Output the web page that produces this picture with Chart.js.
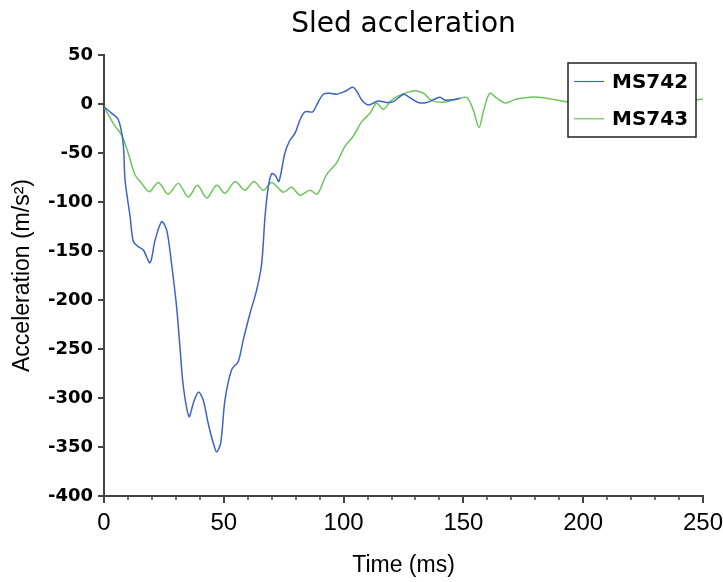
<!DOCTYPE html>
<html>
<head>
<meta charset="utf-8">
<script src="https://cdn.jsdelivr.net/npm/chart.js@4.4.0/dist/chart.umd.min.js"></script>
<style>
  html, body { margin: 0; padding: 0; background: #fff; }
</style>
</head>
<body>
<canvas id="chart" width="723" height="582"></canvas>
<script>
// values
const seriesNames = ['MS742', 'MS743'];

const timeMS742 = [0, 3, 6, 8, 8.8, 10.9, 12.2, 14, 16.4, 19.2, 21.3, 24.1, 26.2, 28.2, 30.3, 31.7, 33.1,
  35.5, 37.3, 39.4, 41.4, 43.5, 45.6, 47, 48.7, 50.5, 53.3, 56, 58.1, 60.9, 63.7, 65.8, 67.2, 68.6,
  70, 71.5, 73, 75.5, 77.6, 79.7, 82, 83.9, 87.1, 89, 91.5, 94.3, 97.1, 100.6, 103.8, 105.5, 107.6,
  110.3, 114.5, 118, 120.8, 125, 127, 131.2, 134.7, 140.2, 142.3, 147.2, 148.6];
const accMS742 = [-3, -9, -16, -40, -78, -115, -140, -145, -149, -162, -139, -120, -129, -163, -207, -248, -288,
  -319, -305, -294, -302, -326, -346, -355, -346, -302, -271, -263, -241, -214, -190, -163, -115, -84,
  -71, -73, -79, -50, -37, -30, -15, -8, -8, 0, 10, 11, 10, 13, 17, 13, 4,
  -1, 3, 1.5, 2.5, 10, 7.5, 1.5, 1.5, 7, 4, 5, 6];

const timeMS743 = [0, 3.9, 7.4, 10.1, 12.9, 15.7, 18.9, 22.7, 26.8, 31, 35.2, 39, 42.9, 47, 50.5, 54.7,
  58.8, 62.6, 66.5, 70, 74.8, 78.3, 81.8, 86, 89, 92.9, 97.1, 100.6, 104, 107.6, 111, 113.8, 116.6,
  119.4, 122.2, 126.3, 129.8, 133.3, 136.8, 141.6, 145.8, 151.4, 154.1, 156.5, 158.5, 161, 163.9,
  167.4, 172.2, 177.8, 183.3, 188.9, 193.1, 200, 205, 215, 225, 235, 245, 250];
const accMS743 = [-3, -20, -32, -50, -72, -81, -89.5, -80, -92, -81, -95, -83, -96, -83, -91, -79,
  -88, -79, -88, -80, -90, -85, -93, -88, -92, -72, -60, -43, -33, -18, -9.5, 0.7, -5.4,
  2.4, 7.5, 11.6, 13.6, 11, 3.4, 1.7, 4, 6.5, -6, -24, -6, 11, 6,
  1, 5, 7, 6.5, 4, 2.4, 3, 5, 4, 5, 3, 4, 5];

const xTickValues = [0, 50, 100, 150, 200, 250];
const yTickValues = [-400, -350, -300, -250, -200, -150, -100, -50, 0, 50];
const xMinorStep = 10;

const toPoints = (xs, ys) => xs.map((x, i) => ({ x: x, y: ys[i] }));

const axisColor = '#444';

// short ticks every 10 ms along the time axis
const minorTicks = {
  id: 'minorTicks',
  afterDraw(chart) {
    const sx = chart.scales.x;
    const ctx = chart.ctx;
    ctx.save();
    ctx.strokeStyle = axisColor;
    ctx.lineWidth = 1.5;
    for (let v = sx.min; v <= sx.max; v += xMinorStep) {
      if (xTickValues.includes(v)) continue;
      const px = Math.round(sx.getPixelForValue(v));
      ctx.beginPath();
      ctx.moveTo(px, sx.top);
      ctx.lineTo(px, sx.top + 4);
      ctx.stroke();
    }
    ctx.restore();
  }
};

// boxed legend in the upper right of the plot
const boxLegend = {
  id: 'boxLegend',
  afterDatasetsDraw(chart) {
    const { ctx, chartArea } = chart;
    const w = 128, h = 74;
    const x0 = chartArea.right - 7 - w;
    const y0 = chartArea.top + 8;
    ctx.save();
    ctx.fillStyle = '#fff';
    ctx.fillRect(x0, y0, w, h);
    ctx.strokeStyle = '#222';
    ctx.lineWidth = 1.5;
    ctx.strokeRect(x0, y0, w, h);
    chart.data.datasets.forEach((ds, i) => {
      const y = y0 + 18.5 + i * 37.3;
      ctx.strokeStyle = ds.borderColor;
      ctx.lineWidth = 1.2;
      ctx.beginPath();
      ctx.moveTo(x0 + 6, y);
      ctx.lineTo(x0 + 36, y);
      ctx.stroke();
      ctx.fillStyle = '#000';
      ctx.font = 'bold 20px "DejaVu Sans"';
      ctx.textBaseline = 'middle';
      ctx.fillText(ds.label, x0 + 44, y + 1);
    });
    ctx.restore();
  }
};

new Chart(document.getElementById('chart'), {
  type: 'line',
  data: {
    datasets: [
      {
        label: seriesNames[0],
        data: toPoints(timeMS742, accMS742),
        borderColor: '#3d63c9',
        borderWidth: 1.5,
        pointRadius: 0,
        tension: 0.3,
        fill: false
      },
      {
        label: seriesNames[1],
        data: toPoints(timeMS743, accMS743),
        borderColor: '#6cc55a',
        borderWidth: 1.5,
        pointRadius: 0,
        tension: 0.3,
        fill: false
      }
    ]
  },
  options: {
    responsive: false,
    animation: false,
    layout: { padding: { left: 0, right: 20, top: 0, bottom: 0 } },
    plugins: {
      legend: { display: false },
      tooltip: { enabled: false },
      title: {
        display: true,
        text: 'Sled accleration',
        color: '#000',
        fullSize: false,
        font: { family: 'DejaVu Sans', size: 28, weight: 'normal' },
        padding: { top: 8, bottom: 13.4 }
      }
    },
    scales: {
      x: {
        type: 'linear',
        min: 0,
        max: 250,
        afterFit: (scale) => { scale.height = 86; scale.paddingRight = 0; },
        afterBuildTicks: (scale) => { scale.ticks = xTickValues.map(v => ({ value: v })); },
        ticks: {
          color: '#000',
          padding: 6,
          maxRotation: 0,
          font: { family: 'Liberation Sans', size: 24 }
        },
        grid: { drawOnChartArea: false, color: axisColor, lineWidth: 2, tickLength: 7 },
        border: { display: true, color: axisColor, width: 2 },
        title: {
          display: true,
          text: 'Time (ms)',
          color: '#000',
          font: { family: 'Liberation Sans', size: 23 },
          padding: { top: 0, bottom: 3 }
        }
      },
      y: {
        type: 'linear',
        min: -400,
        max: 50,
        afterFit: (scale) => { scale.width = 104; },
        afterBuildTicks: (scale) => { scale.ticks = yTickValues.map(v => ({ value: v })); },
        ticks: {
          color: '#000',
          padding: 5,
          font: { family: 'DejaVu Sans', size: 18, weight: 'bold' }
        },
        grid: { drawOnChartArea: false, color: axisColor, lineWidth: 2, tickLength: 6 },
        border: { display: true, color: axisColor, width: 2 },
        title: {
          display: true,
          text: 'Acceleration (m/s²)',
          color: '#000',
          font: { family: 'Liberation Sans', size: 23 },
          padding: { top: 9, bottom: 0 }
        }
      }
    }
  },
  plugins: [minorTicks, boxLegend]
});
</script>
</body>
</html>
